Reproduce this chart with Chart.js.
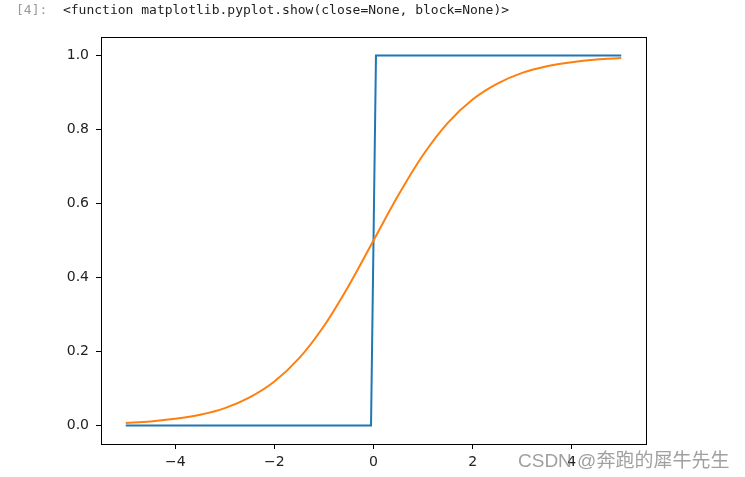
<!DOCTYPE html>
<html>
<head>
<meta charset="utf-8">
<script src="https://cdn.jsdelivr.net/npm/chart.js@4/dist/chart.umd.min.js"></script>
<style>
  body { margin: 0; background: #fff; }
  #wrap { position: relative; width: 745px; height: 477px; }
  #head { position: absolute; left: 16px; top: 2px; font: 13px "DejaVu Sans Mono", monospace; color: #222; white-space: pre; }
  #head span { color: #999; }
  #mark { position: absolute; left: 518px; top: 445px; font: 19px "Liberation Sans", "Noto Sans CJK SC", sans-serif; color: rgba(120,120,120,0.7); white-space: nowrap; }
  canvas { position: absolute; left: 0; top: 0; }
</style>
</head>
<body>
<div id="wrap">
  <canvas id="c" width="745" height="477"></canvas>
  <div id="head"><span>[4]:</span>  &lt;function matplotlib.pyplot.show(close=None, block=None)&gt;</div>
  <div id="mark">CSDN @奔跑的犀牛先生</div>
</div>
<script>
// step function (blue)
const stepX = [-5, -0.05, 0.05, 5];
const stepY = [0, 0, 1, 1];
// sigmoid (orange)
const sigX = [-5, -4.5, -4, -3.5, -3, -2.5, -2, -1.5, -1, -0.5, 0, 0.5, 1, 1.5, 2, 2.5, 3, 3.5, 4, 4.5, 5];
const sigY = [0.007, 0.011, 0.018, 0.029, 0.047, 0.076, 0.119, 0.182, 0.269, 0.378, 0.5, 0.622, 0.731, 0.818, 0.881, 0.924, 0.953, 0.971, 0.982, 0.989, 0.993];
const xTicks = [-4, -2, 0, 2, 4];
const yTicks = [0, 0.2, 0.4, 0.6, 0.8, 1.0];

const frame = {
  id: "frame",
  afterDraw(chart) {
    const a = chart.chartArea, ctx = chart.ctx;
    ctx.save();
    ctx.strokeStyle = "#000";
    ctx.lineWidth = 1;
    ctx.strokeRect(Math.round(a.left) + 0.5, Math.round(a.top) + 0.5, Math.round(a.right - a.left), Math.round(a.bottom - a.top));
    ctx.restore();
  }
};

const tickFont = { family: "DejaVu Sans", size: 14 };

new Chart(document.getElementById("c"), {
  type: "scatter",
  data: {
    datasets: [
      {
        data: stepX.map((x, i) => ({ x: x, y: stepY[i] })),
        showLine: true,
        borderColor: "#1f77b4",
        borderWidth: 2,
        pointRadius: 0,
        order: 2
      },
      {
        data: sigX.map((x, i) => ({ x: x, y: sigY[i] })),
        showLine: true,
        borderColor: "#ff7f0e",
        borderWidth: 2,
        pointRadius: 0,
        cubicInterpolationMode: "monotone",
        order: 1
      }
    ]
  },
  options: {
    responsive: false,
    animation: false,
    layout: { padding: { left: 0, top: 37, right: 99, bottom: 0 } },
    plugins: { legend: { display: false }, tooltip: { enabled: false } },
    scales: {
      x: {
        type: "linear",
        min: -5.5,
        max: 5.5,
        afterBuildTicks: s => { s.ticks = xTicks.map(v => ({ value: v })); },
        afterFit: s => { s.height = 33; },
        grid: { drawOnChartArea: false, drawTicks: true, tickLength: 5, color: "#000" },
        border: { display: false },
        ticks: {
          color: "#222",
          font: tickFont,
          padding: 5,
          maxRotation: 0,
          callback: v => String(v).replace("-", "\u2212")
        }
      },
      y: {
        type: "linear",
        min: -0.05,
        max: 1.05,
        afterBuildTicks: s => { s.ticks = yTicks.map(v => ({ value: v })); },
        afterFit: s => { s.width = 101; },
        grid: { drawOnChartArea: false, drawTicks: true, tickLength: 5, color: "#000" },
        border: { display: false },
        ticks: {
          color: "#222",
          font: tickFont,
          padding: 7,
          callback: v => v.toFixed(1)
        }
      }
    }
  },
  plugins: [frame]
});
</script>
</body>
</html>
